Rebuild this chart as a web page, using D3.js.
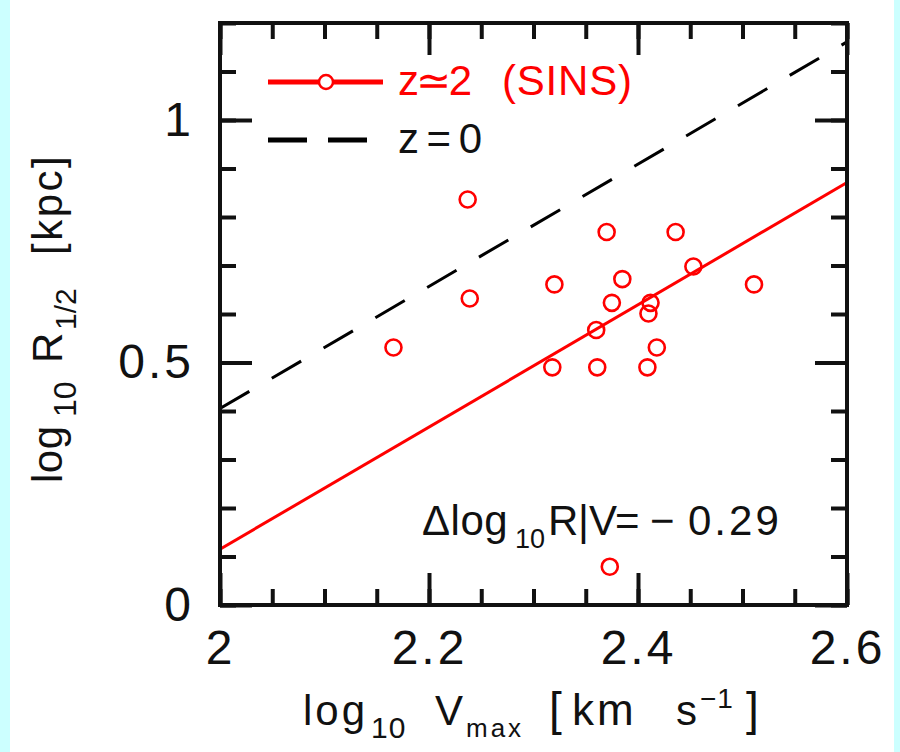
<!DOCTYPE html>
<html>
<head>
<meta charset="utf-8">
<script src="https://cdn.jsdelivr.net/npm/d3@7/dist/d3.min.js"></script>
<style>
  body { margin: 0; background: #ccffff; }
  svg { display: block; font-family: 'Liberation Sans', Arial, sans-serif; }
</style>
</head>
<body>
<div id="chart"></div>
<script>
// SINS z~2 galaxies: log10 Vmax [km/s] and log10 R1/2 [kpc]
const logV = [2.237, 2.370, 2.436, 2.453, 2.385, 2.320, 2.511, 2.239, 2.375,
  2.412, 2.410, 2.360, 2.166, 2.418, 2.318, 2.361, 2.409, 2.373]
const logR = [0.836, 0.769, 0.769, 0.698, 0.672, 0.661, 0.661, 0.632, 0.623,
  0.623, 0.601, 0.567, 0.531, 0.531, 0.490, 0.490, 0.490, 0.079]

// size-velocity relations, value at log V = 2 and common slope
const fitSlope = 1.26
const fitZ2 = 0.115
const fitZ0 = 0.405
const offset = '\u22120.29'

const xDomain = [2, 2.6]
const yDomain = [0, 1.2]
const xTicks = [2, 2.2, 2.4, 2.6]
const yTicks = [0, 0.5, 1]

const dimensions = {
  width: 900,
  height: 752,
  margin: { top: 23, right: 53, bottom: 147, left: 220 }
}
const RED = '#ff0000'

const svg = d3.select('#chart').append('svg')
  .attr('width', dimensions.width)
  .attr('height', dimensions.height)

// white page with the cyan strips left and right
svg.append('rect')
  .attr('x', 10).attr('y', 0)
  .attr('width', 884).attr('height', dimensions.height)
  .attr('fill', '#fff')

const xScale = d3.scaleLinear()
  .domain(xDomain)
  .range([dimensions.margin.left, dimensions.width - dimensions.margin.right])
const yScale = d3.scaleLinear()
  .domain(yDomain)
  .range([dimensions.height - dimensions.margin.bottom, dimensions.margin.top])

const [x0, x1] = xScale.range()
const [y0, y1] = yScale.range()

svg.append('clipPath').attr('id', 'plot-clip')
  .append('rect')
  .attr('x', x0).attr('y', y1)
  .attr('width', x1 - x0).attr('height', y0 - y1)

// fitted lines
const fitLine = d3.line()
  .x(d => xScale(d[0]))
  .y(d => yScale(d[1]))
const lineData = b => xDomain.map(v => [v, b + fitSlope * (v - xDomain[0])])

const lines = svg.append('g').attr('clip-path', 'url(#plot-clip)')
lines.append('path')
  .attr('d', fitLine(lineData(fitZ0)))
  .attr('fill', 'none')
  .attr('stroke', '#000')
  .attr('stroke-width', 3)
  .attr('stroke-dasharray', '34,26')
lines.append('path')
  .attr('d', fitLine(lineData(fitZ2)))
  .attr('fill', 'none')
  .attr('stroke', RED)
  .attr('stroke-width', 3)

// points
svg.append('g')
  .selectAll('circle')
  .data(logV.map((v, i) => ({ v, r: logR[i] })))
  .join('circle')
  .attr('cx', d => xScale(d.v))
  .attr('cy', d => yScale(d.r))
  .attr('r', 8)
  .attr('fill', 'none')
  .attr('stroke', RED)
  .attr('stroke-width', 2.6)

// axes: ticks inward on all four sides
function styleAxis (g, labels) {
  g.select('.domain').remove()
  g.selectAll('.tick line')
    .attr('stroke', '#111')
    .attr('stroke-width', 4)
  if (!labels) {
    g.selectAll('.tick text').remove()
    return
  }
  g.selectAll('.tick text')
    .attr('fill', '#111')
    .style('font-size', '48px')
    .style('letter-spacing', '3px')
}

const fmt = d3.format('~g')
svg.append('g')
  .attr('transform', `translate(0, ${y0})`)
  .call(d3.axisBottom(xScale).tickValues(xScale.ticks(12)).tickSize(-16).tickFormat(''))
  .call(g => styleAxis(g, false))
svg.append('g')
  .attr('transform', `translate(0, ${y0})`)
  .call(d3.axisBottom(xScale).tickValues(xTicks).tickSize(-32).tickPadding(25).tickFormat(fmt))
  .call(g => styleAxis(g, true))
svg.append('g')
  .attr('transform', `translate(0, ${y1})`)
  .call(d3.axisTop(xScale).tickValues(xScale.ticks(12)).tickSize(-16).tickFormat(''))
  .call(g => styleAxis(g, false))
svg.append('g')
  .attr('transform', `translate(0, ${y1})`)
  .call(d3.axisTop(xScale).tickValues(xTicks).tickSize(-32).tickFormat(''))
  .call(g => styleAxis(g, false))
svg.append('g')
  .attr('transform', `translate(${x0}, 0)`)
  .call(d3.axisLeft(yScale).tickValues(yScale.ticks(12)).tickSize(-16).tickFormat(''))
  .call(g => styleAxis(g, false))
svg.append('g')
  .attr('transform', `translate(${x0}, 0)`)
  .call(d3.axisLeft(yScale).tickValues(yTicks).tickSize(-32).tickPadding(26).tickFormat(fmt))
  .call(g => styleAxis(g, true))
svg.append('g')
  .attr('transform', `translate(${x1}, 0)`)
  .call(d3.axisRight(yScale).tickValues(yScale.ticks(12)).tickSize(-16).tickFormat(''))
  .call(g => styleAxis(g, false))
svg.append('g')
  .attr('transform', `translate(${x1}, 0)`)
  .call(d3.axisRight(yScale).tickValues(yTicks).tickSize(-32).tickFormat(''))
  .call(g => styleAxis(g, false))

svg.append('rect')
  .attr('x', x0).attr('y', y1)
  .attr('width', x1 - x0).attr('height', y0 - y1)
  .attr('fill', 'none')
  .attr('stroke', '#111')
  .attr('stroke-width', 4)

// pieces of a label: [text, x, baseline shift, font size, letter spacing]
function label (parent, pieces) {
  parent.selectAll('text')
    .data(pieces)
    .join('text')
    .attr('x', d => d[1])
    .attr('y', d => d[2])
    .attr('fill', '#111')
    .style('font-size', d => `${d[3]}px`)
    .style('letter-spacing', d => `${d[4]}px`)
    .text(d => d[0])
}

label(svg.append('g').attr('transform', 'translate(0, 725)'), [
  ['log', 303, 0, 42, 3],
  ['10', 371, 13, 30, 1],
  ['V', 435, 0, 42, 0],
  ['max', 466, 12, 26, 3],
  ['[', 549, 0, 46, 0],
  ['km', 572, 0, 44, 3],
  ['s', 676, 0, 42, 0],
  ['\u22121', 700, -17, 28, 1],
  [']', 746, 0, 46, 0]
])

label(svg.append('g').attr('transform', 'translate(62, 483) rotate(-90)'), [
  ['log', 0, 0, 42, 0.5],
  ['10', 66, 14, 32, 0],
  ['R', 120, 0, 42, 0],
  ['1/2', 153, 14, 30, 0],
  ['[kpc]', 228, 0, 42, 2.5]
])

// offset annotation
label(svg.append('g').attr('transform', 'translate(0, 535)'), [
  ['\u0394log', 422, 0, 42, 0.5],
  ['10', 515, 13, 27, 0],
  ['R', 548, 0, 42, 0],
  ['|V', 578, 0, 42, 0],
  ['=', 615, 0, 42, 0],
  ['\u2212', 650, 0, 42, 0],
  [offset.slice(1), 688, 0, 42, 3]
])

// legend
const legend = svg.append('g')
legend.append('line')
  .attr('x1', 268).attr('x2', 383).attr('y1', 82).attr('y2', 82)
  .attr('stroke', RED).attr('stroke-width', 5)
legend.append('circle')
  .attr('cx', 326).attr('cy', 82).attr('r', 7)
  .attr('fill', '#fff').attr('stroke', RED).attr('stroke-width', 2.5)
legend.append('text')
  .attr('x', 398).attr('y', 95)
  .attr('textLength', 74).attr('lengthAdjust', 'spacing')
  .attr('fill', RED).style('font-size', '42px')
  .text('z\u22432')
legend.append('text')
  .attr('x', 502).attr('y', 95)
  .attr('textLength', 130).attr('lengthAdjust', 'spacing')
  .attr('fill', RED).style('font-size', '42px')
  .text('(SINS)')
legend.append('line')
  .attr('x1', 268).attr('x2', 367).attr('y1', 140).attr('y2', 140)
  .attr('stroke', '#000').attr('stroke-width', 5)
  .attr('stroke-dasharray', '39,21')
legend.append('text')
  .attr('x', 398).attr('y', 153)
  .attr('textLength', 84).attr('lengthAdjust', 'spacing')
  .attr('fill', '#111').style('font-size', '42px')
  .text('z=0')
</script>
</body>
</html>
